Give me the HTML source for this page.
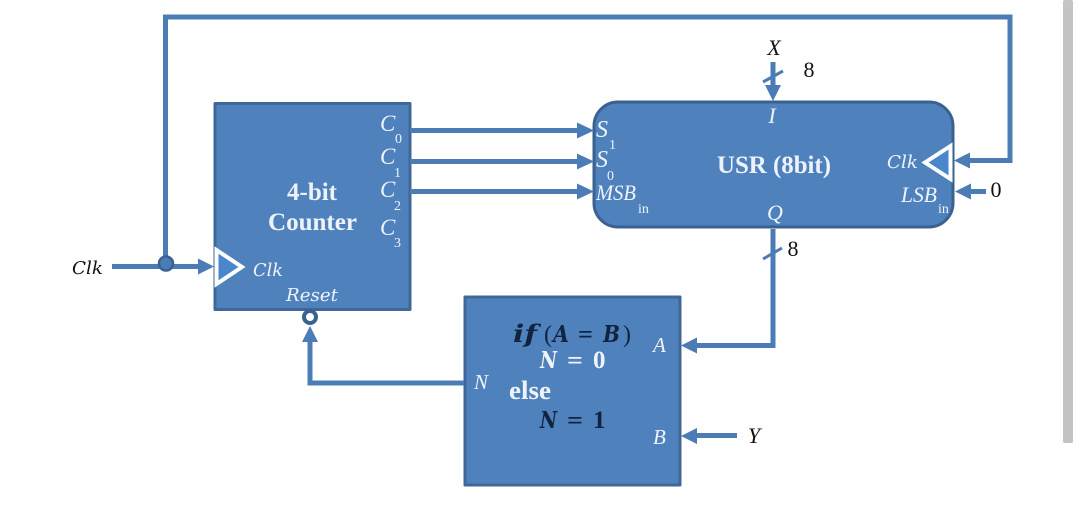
<!DOCTYPE html>
<html><head><meta charset="utf-8"><style>
html,body{margin:0;padding:0;background:#fff;width:1080px;height:513px;overflow:hidden}
svg{display:block}
text{font-family:"Liberation Serif",serif}
.i{font-style:italic}
.w{fill:#eef3fa}
.sub{fill:#eef3fa;font-size:14px}
.k{fill:#111}
.b{font-weight:bold}
.m{font-family:"DejaVu Serif","Liberation Serif",serif;font-style:italic}
.d{fill:#10243f}
</style></head><body>
<svg width="1080" height="513" viewBox="0 0 1080 513" xmlns="http://www.w3.org/2000/svg">
<rect x="1063" y="0" width="10" height="443" rx="2" fill="#c4c4c4"/>
<!-- boxes -->
<rect x="215" y="103.500" width="195" height="206" fill="#4f81bd" stroke="#3f6797" stroke-width="3" stroke-linejoin="round"/>
<rect x="594" y="102" width="359" height="125" rx="24" fill="#4f81bd" stroke="#3a6190" stroke-width="3"/>
<rect x="465" y="297" width="215" height="188" fill="#4f81bd" stroke="#3f6797" stroke-width="3" stroke-linejoin="round"/>
<!-- connectors -->
<g fill="none" stroke="#4b7cb6" stroke-width="5" stroke-linejoin="miter">
<path d="M112 266.500H200"/>
<path d="M165.500 264V17H1010V160.500H968"/>
<path d="M410 130.500H580M410 161.500H580M410 191.500H580"/>
<path d="M773 62V88M773 229V345.500H695"/>
<path d="M464 383H310V342"/>
<path d="M737 435.500H695M986 191.500H968"/>
</g>
<g stroke="#4b7cb6" stroke-width="3" fill="none">
<path d="M763 82L783 71M763 259L782 248"/>
</g>
<g fill="#4b7cb6">
<path d="M198 258.500L214 266.500L198 274.500Z"/>
<path d="M577 122.500L594 130.500L577 138.500Z"/>
<path d="M577 153.500L594 161.500L577 169.500Z"/>
<path d="M577 183.500L594 191.500L577 199.500Z"/>
<path d="M765 85L773 101L781 85Z"/>
<path d="M954 160.500L970 152.500V168.500Z"/>
<path d="M955 191.500L971 183.500V199.500Z"/>
<path d="M681 345.500L697 337.500V353.500Z"/>
<path d="M681 436L697 428V444Z"/>
<path d="M310 326L302 342H318Z"/>
</g>
<circle cx="166" cy="263.500" r="7" fill="#4b7cb6" stroke="#3a6190" stroke-width="2.500"/>
<circle cx="310" cy="317" r="6" fill="#fff" stroke="#3a6190" stroke-width="4"/>
<!-- clock triangles -->
<path d="M216.500 250L242 267L216.500 284Z" fill="#4a86cc" stroke="#fff" stroke-width="4"/>
<path d="M950.500 146L925 162.500L950.500 179Z" fill="#4a86cc" stroke="#fff" stroke-width="4"/>
<!-- counter labels -->
<text x="380" y="131" class="i w" font-size="23">C</text><text x="395" y="143" class="sub">0</text>
<text x="380" y="164" class="i w" font-size="23">C</text><text x="394" y="177" class="sub">1</text>
<text x="380" y="197" class="i w" font-size="23">C</text><text x="394" y="210" class="sub">2</text>
<text x="380" y="235" class="i w" font-size="23">C</text><text x="394" y="247" class="sub">3</text>
<text x="287" y="200" textLength="50" lengthAdjust="spacingAndGlyphs" class="b w" font-size="25">4-bit</text>
<text x="268" y="230" textLength="89" lengthAdjust="spacingAndGlyphs" class="b w" font-size="25">Counter</text>
<text x="253" y="276" textLength="30" lengthAdjust="spacingAndGlyphs" class="m w" font-size="18">Clk</text>
<text x="286" y="301" textLength="52" lengthAdjust="spacingAndGlyphs" class="m w" font-size="18">Reset</text>
<!-- USR labels -->
<text x="596" y="137" class="i w" font-size="24">S</text><text x="609" y="149" class="sub">1</text>
<text x="596" y="167" class="i w" font-size="24">S</text><text x="607" y="180" class="sub">0</text>
<text x="596" y="200" textLength="40" lengthAdjust="spacingAndGlyphs" class="i w" font-size="22">MSB</text><text x="638" y="213" class="sub">in</text>
<text x="772" y="123" text-anchor="middle" class="i w" font-size="22">I</text>
<text x="717" y="173" textLength="114" lengthAdjust="spacingAndGlyphs" class="b w" font-size="25">USR (8bit)</text>
<text x="887" y="168" textLength="31" lengthAdjust="spacingAndGlyphs" class="m w" font-size="18">Clk</text>
<text x="901" y="202" textLength="36" lengthAdjust="spacingAndGlyphs" class="i w" font-size="22">LSB</text><text x="938" y="213" class="sub">in</text>
<text x="775" y="220" text-anchor="middle" class="i w" font-size="22">Q</text>
<!-- outside labels -->
<text x="774" y="55" text-anchor="middle" class="i k" font-size="22">X</text>
<text x="809" y="77" text-anchor="middle" class="k" font-size="22">8</text>
<text x="793" y="256" text-anchor="middle" class="k" font-size="22">8</text>
<text x="996" y="197" text-anchor="middle" class="k" font-size="22">0</text>
<text x="754" y="443" text-anchor="middle" class="i k" font-size="22">Y</text>
<text x="72" y="274" textLength="31" lengthAdjust="spacingAndGlyphs" class="m k" font-size="18">Clk</text>
<!-- if box -->
<text x="513" y="342" textLength="24" lengthAdjust="spacingAndGlyphs" class="m b d" font-size="24">if</text>
<text x="544" y="342" font-size="24" class="d">(</text>
<text x="553" y="342" textLength="16" lengthAdjust="spacingAndGlyphs" class="m b d" font-size="23">A</text>
<text x="578" y="342" textLength="15" lengthAdjust="spacingAndGlyphs" font-size="24" class="b d">=</text>
<text x="603" y="342" textLength="17" lengthAdjust="spacingAndGlyphs" class="m b d" font-size="23">B</text>
<text x="623" y="342" font-size="24" class="d">)</text>
<text x="540" y="368" textLength="17" lengthAdjust="spacingAndGlyphs" class="m b w" font-size="23">N</text>
<text x="567" y="368" textLength="16" lengthAdjust="spacingAndGlyphs" class="b w" font-size="24">=</text>
<text x="593" y="368" class="b w" font-size="25">0</text>
<text x="509" y="399" textLength="42" lengthAdjust="spacingAndGlyphs" class="b w" font-size="26">else</text>
<text x="540" y="428" textLength="17" lengthAdjust="spacingAndGlyphs" class="m b d" font-size="23">N</text>
<text x="567" y="428" textLength="16" lengthAdjust="spacingAndGlyphs" class="b d" font-size="24">=</text>
<text x="593" y="428" class="b d" font-size="25">1</text>
<text x="474" y="389" class="i w" font-size="21">N</text>
<text x="653" y="352" class="i w" font-size="21">A</text>
<text x="653" y="444" class="i w" font-size="21">B</text>
</svg>
</body></html>
